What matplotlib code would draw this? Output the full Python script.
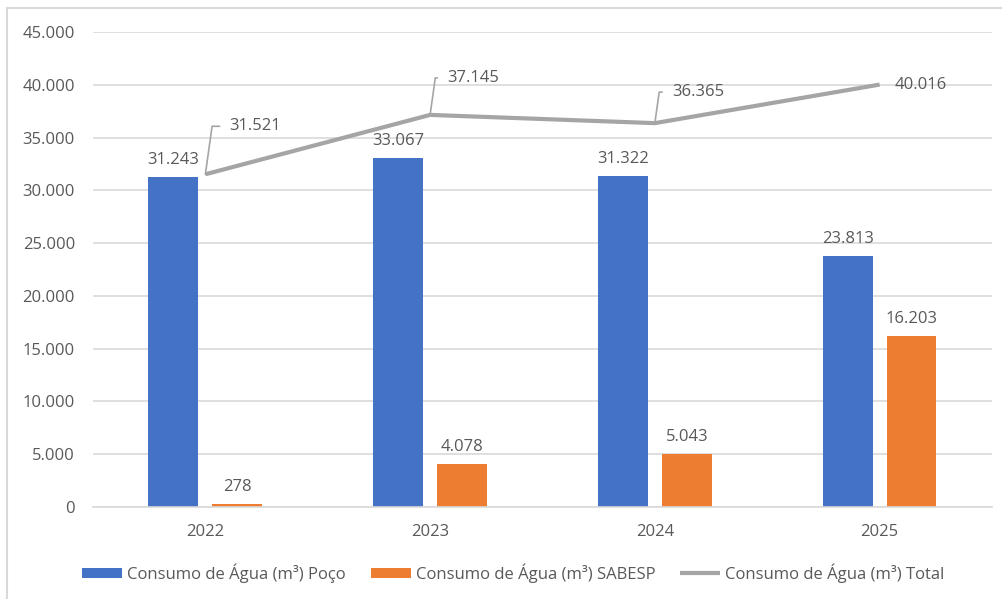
import matplotlib.pyplot as plt
import numpy as np
from matplotlib.ticker import FuncFormatter
from matplotlib.patches import Rectangle

plt.rcParams['font.family'] = ['Open Sans', 'DejaVu Sans']

anos = ['2022', '2023', '2024', '2025']
poco = [31243, 33067, 31322, 23813]
sabesp = [278, 4078, 5043, 16203]
total = [31521, 37145, 36365, 40016]

nome_poco = 'Consumo de Água (m³) Poço'
nome_sabesp = 'Consumo de Água (m³) SABESP'
nome_total = 'Consumo de Água (m³) Total'

azul = '#4472C4'
laranja = '#ED7D31'
cinza = '#A5A5A5'
texto = '#595959'
fs = 12


def milhar(v):
    return f'{int(round(v)):,}'.replace(',', '.')


fig = plt.figure(figsize=(10.03, 5.99), dpi=100)
ax = fig.add_axes([0.0927, 0.1536, 0.8963, 0.793])

x = np.arange(len(anos))
larg = 0.222
desl = 0.142
b1 = ax.bar(x - desl, poco, larg, color=azul, label=nome_poco, zorder=2)
b2 = ax.bar(x + desl, sabesp, larg, color=laranja, label=nome_sabesp, zorder=2)
ln, = ax.plot(x, total, color=cinza, lw=3, label=nome_total, zorder=3,
              solid_capstyle='butt')

for barras, vals in [(b1, poco), (b2, sabesp)]:
    for b, v in zip(barras, vals):
        ax.annotate(milhar(v), (b.get_x() + b.get_width() / 2, v),
                    xytext=(0, 9), textcoords='offset pixels',
                    ha='center', va='bottom', fontsize=fs, color=texto)

# rótulos da linha com linha de chamada (offsets em pixels)
offs = [(24, 48, True), (17, 37, True), (17, 31, True), (15, 0, False)]
for xi, v, (dx, dy, leader) in zip(x, total, offs):
    kw = {}
    if leader:
        kw['arrowprops'] = dict(arrowstyle='-', color=cinza, lw=1.2,
                                connectionstyle='angle,angleA=180,angleB=82,rad=0',
                                relpos=(0, 0.5), shrinkA=5, shrinkB=0)
    ax.annotate(milhar(v), (xi, v), xytext=(dx, dy), textcoords='offset pixels',
                ha='left', va='center', fontsize=fs, color=texto, zorder=4, **kw)

ax.set_ylim(0, 45000)
ax.set_xlim(-0.5, len(anos) - 0.5)
ax.set_yticks(np.arange(0, 45001, 5000))
ax.yaxis.set_major_formatter(FuncFormatter(lambda v, p: milhar(v)))
ax.set_xticks(x)
ax.set_xticklabels(anos)
ax.tick_params(axis='both', length=0, labelsize=fs, labelcolor=texto)
ax.tick_params(axis='y', pad=13)
ax.tick_params(axis='x', pad=12)
ax.grid(axis='y', color='#D9D9D9', lw=1.2, zorder=0)
for s in ['top', 'right', 'left']:
    ax.spines[s].set_visible(False)
ax.spines['bottom'].set_color('#D9D9D9')
ax.spines['bottom'].set_linewidth(1.2)

leg = fig.legend(handles=[b1, b2, ln], loc='center', bbox_to_anchor=(0.512, 0.043),
                 ncol=3, frameon=False, fontsize=fs, handlelength=2.4,
                 handleheight=0.6, handletextpad=0.3, columnspacing=1.5)
for t in leg.get_texts():
    t.set_color(texto)

# moldura do gráfico (só topo e esquerda visíveis)
fig.add_artist(Rectangle((0.007, -0.05), 1.1, 1.0366, transform=fig.transFigure,
                         fill=False, ec='#D9D9D9', lw=1.5))

fig.savefig('out.png', dpi=100)
